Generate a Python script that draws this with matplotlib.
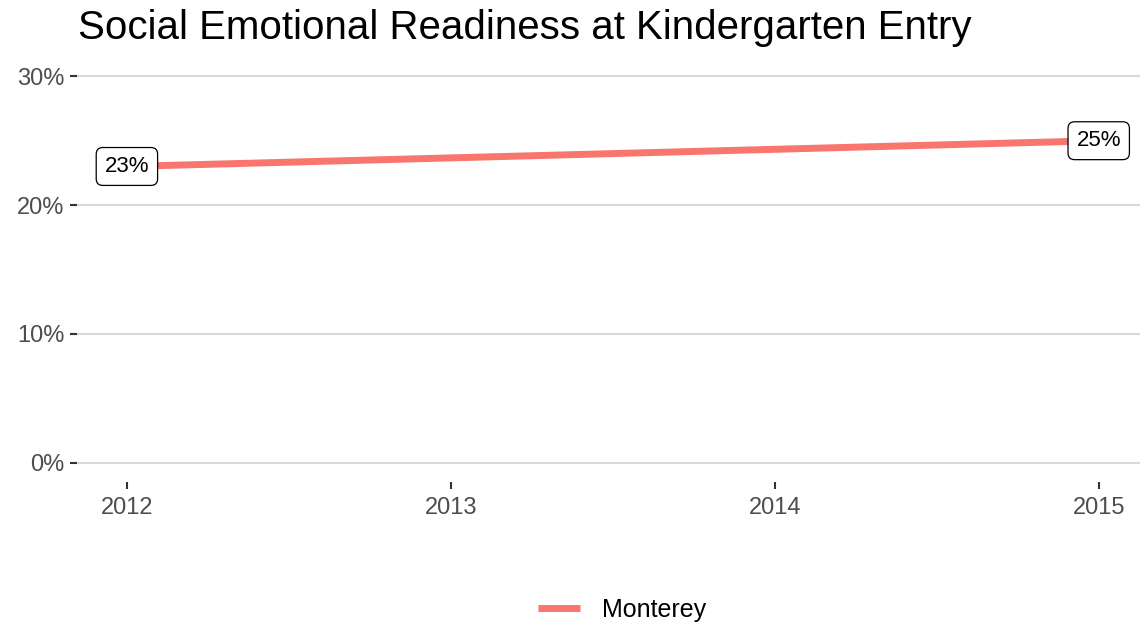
import matplotlib
matplotlib.use("Agg")
import matplotlib.pyplot as plt
from matplotlib.ticker import FuncFormatter

years = [2012, 2015]
values = [23.0, 25.0]
series_name = "Monterey"
title = "Social Emotional Readiness at Kindergarten Entry"
yticks = [0, 10, 20, 30]
xticks = [2012, 2013, 2014, 2015]

plt.rcParams['font.family'] = ['Liberation Sans', 'DejaVu Sans']

fig = plt.figure(figsize=(11.41, 6.25), dpi=100)
ax = fig.add_axes([0.0675, 0.2288, 0.9315, 0.68])

color = '#F8766D'
ax.plot(years, values, color=color, lw=5, solid_capstyle='butt', label=series_name, zorder=3)

for x, v in zip(years, values):
    ax.text(x, v, f"{v:.0f}%", ha='center', va='center', fontsize=16, color='black', zorder=4,
            bbox=dict(boxstyle='round,pad=0.38,rounding_size=0.3', fc='white', ec='black', lw=0.9))

ax.set_xlim(2011.846, 2015.127)
ax.set_ylim(-1.5, 31.5)
ax.set_yticks(yticks)
ax.set_xticks(xticks)
ax.yaxis.set_major_formatter(FuncFormatter(lambda v, p: f"{v:.0f}%"))
ax.grid(axis='y', color='#d9d9d9', lw=1.5)
ax.grid(axis='x', visible=False)
ax.set_axisbelow(True)
for s in ax.spines.values():
    s.set_visible(False)
ax.tick_params(axis='both', colors='#333333', labelcolor='#4d4d4d', labelsize=17, length=5, width=1.5)
ax.tick_params(axis='y', pad=4)
ax.tick_params(axis='x', pad=6)

fig.text(0.068, 0.955, title, fontsize=29, ha='left', va='center', color='black')

leg = fig.legend(loc='center', bbox_to_anchor=(0.545, 0.024), frameon=False, fontsize=18,
                 handlelength=1.7, handletextpad=0.85, bbox_transform=fig.transFigure)

fig.savefig('out.png', dpi=100)
